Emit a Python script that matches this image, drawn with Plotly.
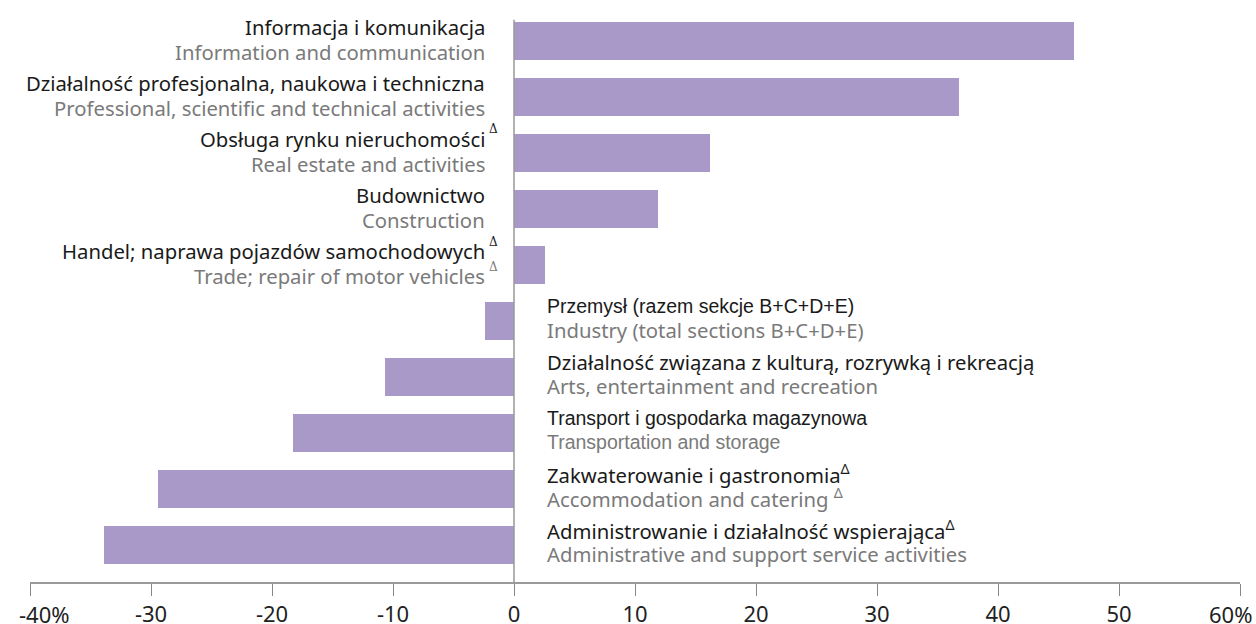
import plotly.graph_objects as go

pl_labels = [
    "Informacja i komunikacja",
    "Działalność profesjonalna, naukowa i techniczna",
    "Obsługa rynku nieruchomości",
    "Budownictwo",
    "Handel; naprawa pojazdów samochodowych",
    "Przemysł (razem sekcje B+C+D+E)",
    "Działalność związana z kulturą, rozrywką i rekreacją",
    "Transport i gospodarka magazynowa",
    "Zakwaterowanie i gastronomia",
    "Administrowanie i działalność wspierająca",
]
en_labels = [
    "Information and communication",
    "Professional, scientific and technical activities",
    "Real estate and activities",
    "Construction",
    "Trade; repair of motor vehicles",
    "Industry (total sections B+C+D+E)",
    "Arts, entertainment and recreation",
    "Transportation and storage",
    "Accommodation and catering ",
    "Administrative and support service activities",
]
values = [46.3, 36.8, 16.2, 11.9, 2.6, -2.4, -10.7, -18.3, -29.4, -33.9]
pl_delta = [False, False, True, False, True, False, False, False, True, True]
en_delta = [False, False, False, False, True, False, False, False, True, False]
pl_arial = [False, False, False, False, False, True, False, True, False, False]
en_arial = [False, False, False, False, False, False, False, True, False, False]
tick_vals = [-40, -30, -20, -10, 0, 10, 20, 30, 40, 50, 60]
tick_text = ["-40%", "-30", "-20", "-10", "0", "10", "20", "30", "40", "50", "60%"]

BAR = "#A899C8"
DARK = "#1a1a1a"
GRAY = "#7a7a7a"
MAIN_FONT = "Noto Sans"
ARIAL = "Liberation Sans"
FS = 20.3
AFS = 19.5
TFS = 22

cats = list(range(len(values)))
fig = go.Figure(go.Bar(
    x=values, y=cats, orientation="h", width=0.68,
    marker=dict(color=BAR, line=dict(width=0)), hoverinfo="skip",
))

ann = []
for i, v in enumerate(values):
    pos = v >= 0
    if pos:
        xa, anchor = -2.2, "right"
        dy1, dy2 = -14 / 56, 11 / 56
    else:
        xa, anchor = 2.6, "left"
        dy1, dy2 = -15 / 56, 9 / 56
    for txt, col, dy, has_d, arial in [
        (pl_labels[i], DARK, dy1, pl_delta[i], pl_arial[i]),
        (en_labels[i], GRAY, dy2, en_delta[i], en_arial[i]),
    ]:
        fam = ARIAL if arial else MAIN_FONT
        t = txt
        if has_d and not pos:
            t = txt + "<sup>Δ</sup>"
        ann.append(dict(x=xa, y=i + dy, xref="x", yref="y", text=t, showarrow=False,
                        xanchor=anchor, yanchor="middle", align=anchor,
                        font=dict(family=fam, size=AFS if arial else FS, color=col)))
        if has_d and pos:
            ann.append(dict(x=xa, y=i + dy - 0.17, xref="x", yref="y", text="Δ", showarrow=False,
                            xanchor="left", yanchor="middle",
                            font=dict(family="DejaVu Serif", size=12, color=col)))

# end tick labels nudged inward so they stay inside the canvas (as in the reference)
edge_labels = [(-40, "-40%", 14), (60, "60%", -10)]
for tv, tt, shift in edge_labels:
    ann.append(dict(x=tv, y=0, xref="x", yref="paper", xshift=shift, yshift=-32, text=tt,
                    showarrow=False, xanchor="center", yanchor="middle",
                    font=dict(family=MAIN_FONT, size=TFS, color="#222222")))
tick_text_axis = ["" if t in ("-40%", "60%") else t for t in tick_text]

fig.update_layout(
    width=1256, height=624,
    margin=dict(l=30, r=16, t=13, b=42),
    paper_bgcolor="white", plot_bgcolor="white",
    showlegend=False, bargap=0,
    annotations=ann,
    shapes=[dict(type="line", xref="x", yref="y", x0=0, x1=0, y0=-0.38, y1=9.66,
                 line=dict(color="#999999", width=1.5), layer="above")],
    xaxis=dict(range=[-40, 60], tickvals=tick_vals, ticktext=tick_text_axis,
               showgrid=False, zeroline=False, showline=True, linecolor="#999999", linewidth=1.5,
               ticks="outside", ticklen=12, tickcolor="#888888", tickwidth=1,
               tickfont=dict(family=MAIN_FONT, size=TFS, color="#222222"),
               automargin=False, fixedrange=True),
    yaxis=dict(range=[9.66, -0.5], showticklabels=False, showgrid=False, zeroline=False,
               showline=False, ticks="", automargin=False, fixedrange=True),
)

fig.write_html("out.html", config={"displayModeBar": False},
               post_script="document.body.style.margin='0px';")
